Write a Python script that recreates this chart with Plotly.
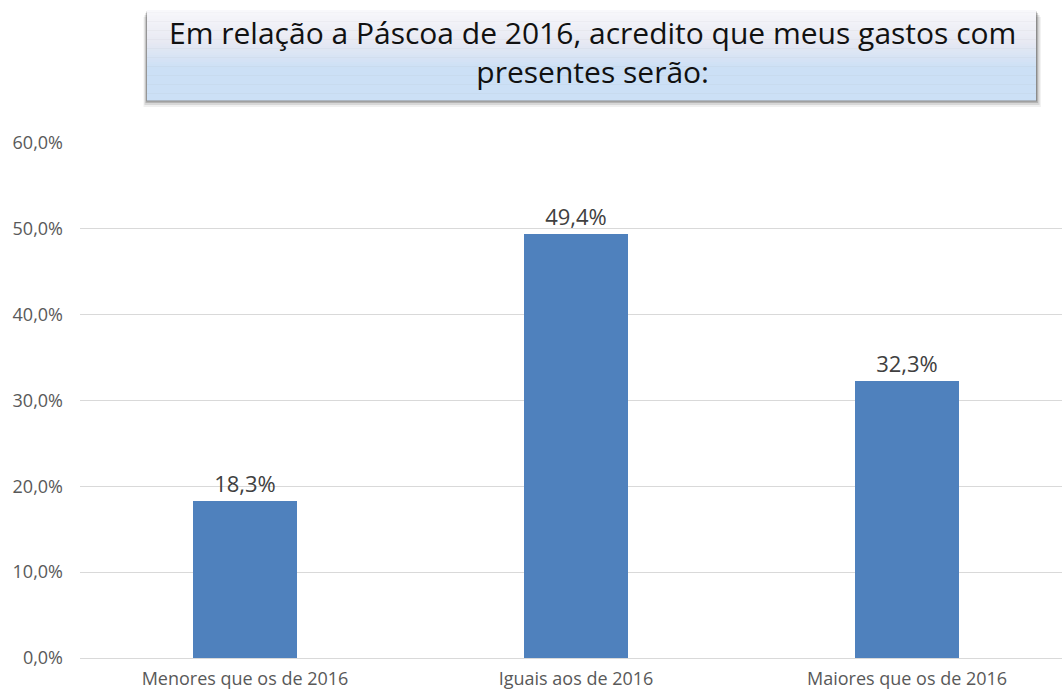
import plotly.graph_objects as go

categories = ["Menores que os de 2016", "Iguais aos de 2016", "Maiores que os de 2016"]
values = [18.3, 49.4, 32.3]
value_labels = ["18,3%", "49,4%", "32,3%"]
tick_vals = [0, 10, 20, 30, 40, 50, 60]
tick_text = ["0,0%", "10,0%", "20,0%", "30,0%", "40,0%", "50,0%", "60,0%"]
title_text = "Em relação a Páscoa de 2016, acredito que meus gastos com<br>presentes serão:"

FONT = "Open Sans"

W, H = 1062, 693
L, T = 80, 143
PW = W - L
PH = 658 - T


def px(x):
    return (x - L) / PW


def py(y):
    return 1 - (y - T) / PH


fig = go.Figure()
fig.add_trace(go.Bar(
    x=list(range(len(categories))), y=values,
    marker=dict(color="#4f81bd", line=dict(width=0)),
    width=0.314,
    text=value_labels, textposition="outside",
    textfont=dict(family=FONT, size=22, color="#404040"),
    cliponaxis=False,
    hoverinfo="skip",
))

x0, x1, y0, y1 = 147, 1036, 10, 100
shapes = []
for off, col in [(7, "rgba(0,0,0,0.06)"), (5, "rgba(0,0,0,0.10)"), (3, "rgba(0,0,0,0.16)"), (1.5, "rgba(0,0,0,0.22)")]:
    shapes.append(dict(type="rect", xref="paper", yref="paper", layer="above",
                       x0=px(x0 - off * 0.5), x1=px(x1 + off * 0.7), y0=py(y1 + off), y1=py(y0 + off),
                       fillcolor=col, line=dict(width=0)))
n = 40
c_top = (248, 248, 251)
c_mid = (232, 234, 243)
c_bot = (204, 224, 246)
for i in range(n):
    t = i / (n - 1)
    if t < 0.35:
        a, b, tt = c_top, c_mid, t / 0.35
    else:
        a, b, tt = c_mid, c_bot, min(1.0, (t - 0.35) / 0.3)
    c = tuple(int(a[k] + (b[k] - a[k]) * tt) for k in range(3))
    ya = y0 + (y1 - y0) * i / n
    yb = y0 + (y1 - y0) * (i + 1) / n
    shapes.append(dict(type="rect", xref="paper", yref="paper", layer="above",
                       x0=px(x0), x1=px(x1), y0=py(yb + 0.5), y1=py(ya),
                       fillcolor="rgb(%d,%d,%d)" % c, line=dict(width=0)))

fig.update_layout(
    width=W, height=H,
    margin=dict(l=L, r=0, t=T, b=H - T - PH, autoexpand=False),
    paper_bgcolor="white", plot_bgcolor="white",
    showlegend=False,
    bargap=0,
    shapes=shapes,
    annotations=[dict(
        text=title_text, xref="paper", yref="paper",
        x=px(592), y=py(52), xanchor="center", yanchor="middle",
        showarrow=False, align="center",
        font=dict(family=FONT, size=30, color="#111111"),
    )],
    xaxis=dict(
        range=[-0.4985, 2.468], tickmode="array",
        tickvals=list(range(len(categories))), ticktext=categories,
        showgrid=False, zeroline=False, showline=False, ticks="",
        ticklabelstandoff=8,
        tickfont=dict(family=FONT, size=18, color="#595959"),
        fixedrange=True,
    ),
    yaxis=dict(
        range=[0, 60], tickmode="array", tickvals=tick_vals, ticktext=tick_text,
        showgrid=True, gridcolor="#d9d9d9", gridwidth=1,
        zeroline=True, zerolinecolor="#d9d9d9", zerolinewidth=1,
        showline=False, ticks="", ticklabelstandoff=16,
        tickfont=dict(family=FONT, size=18, color="#595959"),
        fixedrange=True,
    ),
)

fig.write_html(
    "out.html",
    config={"displayModeBar": False},
    post_script="document.body.style.margin='0';document.body.style.overflow='hidden';",
)
